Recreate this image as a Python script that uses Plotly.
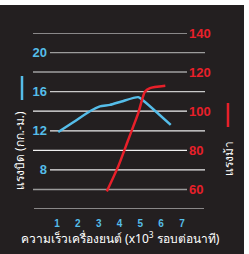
import plotly.graph_objects as go

# ---- data ----
rpm_torque = [1.06, 1.8, 2.58, 3.06, 3.54, 4.1, 4.9, 5.14, 6.46]
torque = [11.87, 12.9, 14.0, 14.5, 14.65, 15.0, 15.44, 15.1, 12.6]
rpm_power = [3.39, 3.94, 4.42, 4.9, 5.22, 5.46, 6.2]
power = [59, 71.8, 85.4, 99, 110, 111.8, 113]

x_ticks = [1, 2, 3, 4, 5, 6, 7]
torque_ticks = [8, 12, 16, 20]
power_ticks = [60, 80, 100, 120, 140]

x_title = "ความเร็วเครื่องยนต์ (x10<sup>3</sup> รอบต่อนาที)"
left_title = "แรงบิด (กก.-ม.)"
right_title = "แรงม้า"

BG = "#231f20"
BLUE = "#55bde9"
RED = "#e8202a"

W_PX, H_PX = 249, 254
L, R, T, B = 48, 61, 33, 45
PW = W_PX - L - R
PH = H_PX - T - B


def px(p):
    return (p - L) / PW


def py(p):
    return (H_PX - B - p) / PH


fig = go.Figure()
fig.add_trace(go.Scatter(x=rpm_torque, y=torque, mode="lines",
                         line=dict(color=BLUE, width=2.5, shape="spline", smoothing=0.6),
                         hoverinfo="skip", showlegend=False))
fig.add_trace(go.Scatter(x=rpm_power, y=power, mode="lines", yaxis="y2",
                         line=dict(color=RED, width=2.5, shape="spline", smoothing=0.6),
                         hoverinfo="skip", showlegend=False))

shapes = []
# dark panel (page is white at the top and right edges)
shapes.append(dict(type="rect", xref="paper", yref="paper", x0=px(0), x1=px(244),
                   y0=py(254), y1=py(5), fillcolor=BG, line_width=0, layer="below"))

left_line_colors = {20: "#9c9c9c", 16: "#c9c9c9", 12: "#ececec", 8: "#ececec"}
for v in torque_ticks:
    shapes.append(dict(type="line", xref="paper", yref="y", x0=px(50), x1=px(205),
                       y0=v, y1=v, line=dict(color=left_line_colors[v], width=1.3), layer="below"))
right_line_colors = {140: "#f2f2f2", 120: "#a0a0a0", 100: "#f0f0f0", 80: "#f0f0f0", 60: "#9a9a9a"}
for v in power_ticks:
    shapes.append(dict(type="line", xref="paper", yref="y2", x0=px(33), x1=px(187),
                       y0=v, y1=v, line=dict(color=right_line_colors[v], width=1.5 if v in (120, 60) else 1.2),
                       layer="below"))
shapes.append(dict(type="line", xref="paper", yref="y2", x0=px(34), x1=px(204),
                   y0=50, y1=50, line=dict(color="#f0f0f0", width=1.2), layer="below"))
# colour bars beside axis titles
shapes.append(dict(type="line", xref="paper", yref="paper", x0=px(22), x1=px(22),
                   y0=py(76), y1=py(100), line=dict(color=BLUE, width=2.5)))
shapes.append(dict(type="line", xref="paper", yref="paper", x0=px(228), x1=px(228),
                   y0=py(103), y1=py(127), line=dict(color=RED, width=2.5)))

annotations = [
    dict(text=x_title, xref="paper", yref="paper", x=px(120), y=py(238), showarrow=False,
         font=dict(color="white", size=12, family="Noto Sans, Liberation Sans, sans-serif"),
         xanchor="center", yanchor="middle"),
    dict(text=left_title, xref="paper", yref="paper", x=px(19), y=py(150), showarrow=False,
         textangle=-90, font=dict(color="white", size=12, family="Noto Sans, Liberation Sans, sans-serif"),
         xanchor="center", yanchor="middle"),
    dict(text=right_title, xref="paper", yref="paper", x=px(228), y=py(159), showarrow=False,
         textangle=-90, font=dict(color="white", size=12, family="Noto Sans, Liberation Sans, sans-serif"),
         xanchor="center", yanchor="middle"),
]

fig.update_layout(
    width=W_PX, height=H_PX,
    margin=dict(l=L, r=R, t=T, b=B, pad=0),
    paper_bgcolor="white", plot_bgcolor="rgba(0,0,0,0)",
    shapes=shapes, annotations=annotations,
    xaxis=dict(range=[1 - 9 / 20.83, 1 + 131 / 20.83], tickvals=x_ticks, showgrid=False,
               zeroline=False, showline=False, ticks="", ticklabelstandoff=7,
               tickfont=dict(color=BLUE, size=10, family="Liberation Sans", weight="bold")),
    yaxis=dict(range=[4, 22], tickvals=torque_ticks, showgrid=False, zeroline=False,
               showline=False, ticks="", ticklabelstandoff=0,
               tickfont=dict(color=BLUE, size=13, family="Liberation Sans", weight="bold")),
    yaxis2=dict(range=[50, 140], tickvals=power_ticks, overlaying="y", side="right",
                showgrid=False, zeroline=False, showline=False, ticks="", ticklabelstandoff=0,
                tickfont=dict(color=RED, size=13, family="Liberation Sans", weight="bold")),
)

fig.write_html("out.html", config={"displayModeBar": False},
               post_script="document.body.style.margin='0';document.body.style.overflow='hidden';")
